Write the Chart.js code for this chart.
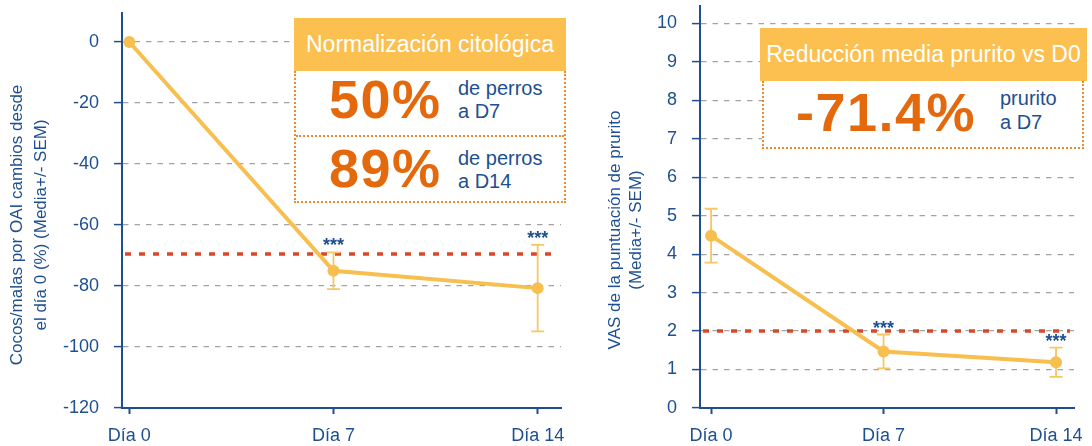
<!DOCTYPE html>
<html>
<head>
<meta charset="utf-8">
<script src="https://cdn.jsdelivr.net/npm/chart.js@4.4.1/dist/chart.umd.min.js"></script>
<style>
  html, body { margin: 0; padding: 0; background: #fff; }
  body { width: 1092px; height: 446px; position: relative; overflow: hidden;
         font-family: "Liberation Sans", Arial, sans-serif; }
  .wrap { position: absolute; top: 0; height: 446px; }
  .head { position: absolute; background: #fcc050; color: #fff; font-size: 23px;
          display: flex; align-items: center; justify-content: center; white-space: nowrap; }
  .body { position: absolute; background: #fff; box-sizing: border-box;
          border: 2px dotted #f08a2c; border-top: none; }
  .row { position: absolute; left: 0; right: 0; box-sizing: border-box; }
  .big { position: absolute; color: #e4690c; font-weight: bold; font-size: 54px;
         line-height: 54px; letter-spacing: 1.5px; white-space: nowrap; }
  .small { position: absolute; color: #1d4f91; font-size: 20px; line-height: 23px; white-space: nowrap; }
</style>
</head>
<body>
<div class="wrap" style="left:0;width:580px"><canvas id="cocosChart"></canvas></div>
<div class="wrap" style="left:580px;width:512px"><canvas id="vasChart"></canvas></div>

<!-- recuadro izquierdo -->
<div class="head" style="left:294px;top:18px;width:272px;height:53px">Normalización citológica</div>
<div class="body" style="left:294px;top:71px;width:272px;height:132px">
  <div class="row" style="top:64px;border-top:2px dotted #f08a2c;height:0"></div>
</div>
<div class="big" style="left:329px;top:72px">50%</div>
<div class="small" style="left:458px;top:77px">de perros<br>a D7</div>
<div class="big" style="left:329px;top:141px">89%</div>
<div class="small" style="left:458px;top:147px">de perros<br>a D14</div>

<!-- recuadro derecho -->
<div class="head" style="left:760px;top:28px;width:327px;height:53px">Reducción media prurito vs D0</div>
<div class="body" style="left:762px;top:81px;width:322px;height:68px"></div>
<div class="big" style="left:796px;top:85px">-71.4%</div>
<div class="small" style="left:1000px;top:86px;line-height:24px">prurito<br>a D7</div>

<script>
const days = [0, 7, 14];
const dayLabels = ["Día 0", "Día 7", "Día 14"];
const stars = ["", "***", "***"];

// cocos/malas, cambio % desde día 0
const cocosMean = [0, -75, -80.7];
const cocosSem = [0, 6, 14.2];
const cocosLimit = -69.5;
const cocosTicks = [0, -20, -40, -60, -80, -100, -120];
const cocosTitle = ["Cocos/malas por OAI cambios desde", "el día 0 (%) (Media+/- SEM)"];

// VAS prurito
const vasMean = [4.48, 1.47, 1.19];
const vasSem = [0.7, 0.44, 0.38];
const vasLimit = 2;
const vasTicks = [0, 1, 2, 3, 4, 5, 6, 7, 8, 9, 10];
const vasTitle = ["VAS de la puntuación de prurito", "(Media+/- SEM)"];

const blue = "#1d4f91";
const yellow = "#f7bf4f";
Chart.defaults.font.family = "'Liberation Sans', Arial, sans-serif";
Chart.defaults.font.size = 18;
Chart.defaults.color = blue;

// barras de error, línea de referencia y asteriscos
const extrasPlugin = {
  id: "extras",
  beforeDatasetsDraw(chart, args, opts) {
    const { ctx, chartArea } = chart;
    const x = chart.scales.x, y = chart.scales.y;
    ctx.save();
    // línea roja punteada
    ctx.strokeStyle = "#d9482b";
    ctx.lineWidth = 3.5;
    ctx.setLineDash([6, 8]);
    ctx.beginPath();
    const ly = y.getPixelForValue(opts.limit);
    ctx.moveTo(chartArea.left + 3, ly);
    ctx.lineTo(chartArea.right - 4, ly);
    ctx.stroke();
    ctx.setLineDash([]);
    // barras de error
    ctx.strokeStyle = "#f6c764";
    ctx.lineWidth = 1.8;
    opts.mean.forEach((m, i) => {
      if (!opts.sem[i]) return;
      const px = x.getPixelForValue(days[i]);
      const top = y.getPixelForValue(m + opts.sem[i]);
      const bot = y.getPixelForValue(m - opts.sem[i]);
      ctx.beginPath();
      ctx.moveTo(px, top); ctx.lineTo(px, bot);
      ctx.moveTo(px - 6.5, top); ctx.lineTo(px + 6.5, top);
      ctx.moveTo(px - 6.5, bot); ctx.lineTo(px + 6.5, bot);
      ctx.stroke();
    });
    ctx.restore();
  },
  afterDraw(chart, args, opts) {
    const { ctx } = chart;
    const x = chart.scales.x, y = chart.scales.y;
    ctx.save();
    ctx.fillStyle = blue;
    ctx.font = "bold 18px 'Liberation Sans', Arial, sans-serif";
    ctx.textAlign = "center";
    ctx.textBaseline = "alphabetic";
    opts.mean.forEach((m, i) => {
      if (!stars[i]) return;
      const px = x.getPixelForValue(days[i]);
      const top = y.getPixelForValue(m + opts.sem[i]);
      ctx.fillText(stars[i], px, top - 1);
    });
    // título del eje Y (dos líneas)
    ctx.font = "17px 'Liberation Sans', Arial, sans-serif";
    ctx.textBaseline = "middle";
    ctx.translate(opts.titleX, opts.titleY);
    ctx.rotate(-Math.PI / 2);
    opts.title.forEach((t, i) => ctx.fillText(t, 0, i * opts.titleGap));
    ctx.restore();
  }
};

const makeChart = (id, cfg) => {
  const el = document.getElementById(id);
  el.width = cfg.width; el.height = 446;
  return new Chart(el, {
    type: "line",
    data: {
      datasets: [{
        data: days.map((d, i) => ({ x: d, y: cfg.mean[i] })),
        borderColor: yellow,
        backgroundColor: yellow,
        borderWidth: 4,
        pointRadius: 6,
        pointHoverRadius: 6,
        pointBackgroundColor: yellow,
        pointBorderWidth: 0,
        tension: 0
      }]
    },
    options: {
      responsive: false,
      animation: false,
      layout: { padding: { left: 0, top: cfg.top, right: cfg.right, bottom: 0 } },
      plugins: {
        legend: { display: false },
        tooltip: { enabled: false },
        extras: { mean: cfg.mean, sem: cfg.sem, limit: cfg.limit, title: cfg.title,
                  titleX: cfg.titleX, titleY: cfg.titleY, titleGap: cfg.titleGap }
      },
      scales: {
        x: {
          type: "linear",
          min: cfg.xMin, max: cfg.xMax,
          afterBuildTicks: s => { s.ticks = days.map(v => ({ value: v })); },
          afterFit: s => { s.height = 38; s.paddingLeft = 0; s.paddingRight = 0; },
          border: { color: blue, width: 2 },
          grid: { drawOnChartArea: false, tickLength: 6, tickColor: blue, tickWidth: 2 },
          ticks: { color: blue, padding: 11, maxRotation: 0,
                   callback: v => dayLabels[days.indexOf(v)] }
        },
        y: {
          min: cfg.yMin, max: cfg.yMax,
          afterBuildTicks: s => { s.ticks = cfg.ticks.map(v => ({ value: v })); },
          afterFit: s => { s.width = cfg.axisW; s.paddingTop = 0; s.paddingBottom = 0; },
          border: { color: blue, width: 2, dash: [5.5, 6] },
          grid: { color: "#a3a3a3", lineWidth: 1.2, tickLength: 8,
                  tickColor: blue, tickWidth: 1.5, tickBorderDash: [] },
          ticks: { color: blue, padding: 15 }
        }
      }
    },
    plugins: [extrasPlugin]
  });
};

makeChart("cocosChart", {
  width: 580, top: 13, right: 19, axisW: 122,
  xMin: -0.25, xMax: 14.8, yMin: -120, yMax: 9.5,
  mean: cocosMean, sem: cocosSem, limit: cocosLimit, ticks: cocosTicks,
  title: cocosTitle, titleX: 17.5, titleY: 225, titleGap: 23.5
});

makeChart("vasChart", {
  width: 512, top: 3, right: 18, axisW: 120,
  xMin: -0.45, xMax: 14.73, yMin: 0, yMax: 10.45,
  mean: vasMean, sem: vasSem, limit: vasLimit, ticks: vasTicks,
  title: vasTitle, titleX: 35.5, titleY: 230, titleGap: 21
});
</script>
</body>
</html>
